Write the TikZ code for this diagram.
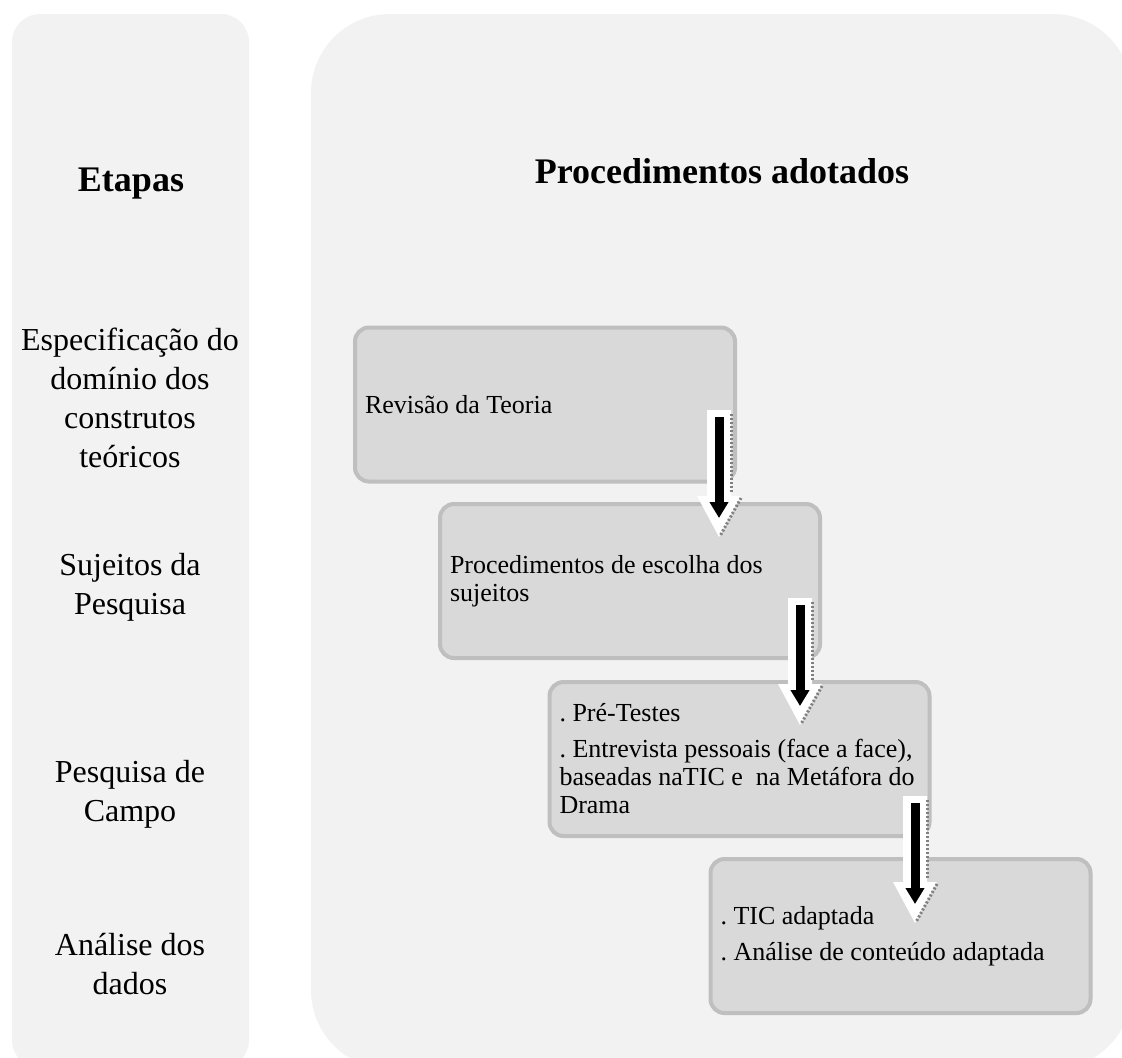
\documentclass[tikz,border=0pt]{standalone}
\usepackage{fontspec}
\setmainfont{Liberation Serif}
\usetikzlibrary{arrows.meta,calc}

\definecolor{panel}{HTML}{F2F2F2}
\definecolor{boxfill}{HTML}{D9D9D9}
\definecolor{boxline}{HTML}{BFBFBF}

% white block arrow behind the black one, #1 = start of the black arrow
\newcommand{\whitearrow}[1]{%
  \fill[white] ($(#1)+(-12,-7)$) -- ++(24,0) -- ++(0,86) -- ++(10,0)
    -- ++(-22,41) -- ++(-22,-41) -- ++(10,0) -- cycle;
  \draw[shade line] ($(#1)+(12,-3)$) -- ++(0,80);
  \draw[shade line] ($(#1)+(22,81)$) -- ++(-21,38);
}

\tikzset{
  shade line/.style={gray, line width=1.5pt, dash pattern=on 1pt off 1pt},
  flow/.style={line width=4.5pt, -{Triangle[length=8pt,width=9pt]}},
}

\begin{document}
\frenchspacing
\begin{tikzpicture}[x=0.5pt,y=-0.5pt]

        \useasboundingbox (0,0) rectangle (1122,1057);
        \fill[white] (0,0) rectangle (1122,1057);
        \clip (0,0) rectangle (1122,1057);

        % panels
        \fill[panel, rounded corners=14pt] (12,14) rectangle (249,1068);
        \fill[panel, rounded corners=39.5pt] (311,14) rectangle (1132,1069);

        \node[font=\fontsize{18}{21}\selectfont\bfseries] (etapas) at (131,184) {Etapas};
        \node[font=\fontsize{18}{21}\selectfont\bfseries] (proc) at (722,171) {Procedimentos adotados};

        \begin{scope}[every node/.style={align=center, font=\fontsize{16}{19.5}\selectfont}]
          \node (l1) at (130,398) {Especificação do\\domínio dos\\construtos\\teóricos};
          \node (l2) at (130,587) {Sujeitos da\\Pesquisa};
          \node (l3) at (130,794) {Pesquisa de\\Campo};
          \node (l4) at (130,964) {Análise dos\\dados};
        \end{scope}

        \begin{scope}[every node/.style={draw=boxline, fill=boxfill, line width=2pt,
            rounded corners=7pt, text width=180pt, inner xsep=5pt, minimum height=77pt,
            align=flush left, font=\fontsize{13}{14}\selectfont}]
          \node (rev)   at (545,404.5) {Revisão da Teoria};
          \node (esc)   at (630,581)   {Procedimentos de escolha dos\\sujeitos};
          \node (campo) at (739.5,759) {. Pré-Testes\\[4pt]. Entrevista pessoais (face a face),\\baseadas naTIC e\ \ na Metáfora do\\Drama};
          \node (anal)  at (900.5,936) {. TIC adaptada\\[4pt]. Análise de conteúdo adaptada};
        \end{scope}

        \coordinate (s1) at (719,417);
        \coordinate (e1) at (719,518);
        \coordinate (s2) at (800,605);
        \coordinate (e2) at (800,706);
        \coordinate (s3) at (915,803);
        \coordinate (e3) at (915,904);

        \whitearrow{s1}
        \whitearrow{s2}
        \whitearrow{s3}

        \draw[flow] (s1) -- (e1);
        \draw[flow] (s2) -- (e2);
        \draw[flow] (s3) -- (e3);

      \end{tikzpicture}
\end{document}
